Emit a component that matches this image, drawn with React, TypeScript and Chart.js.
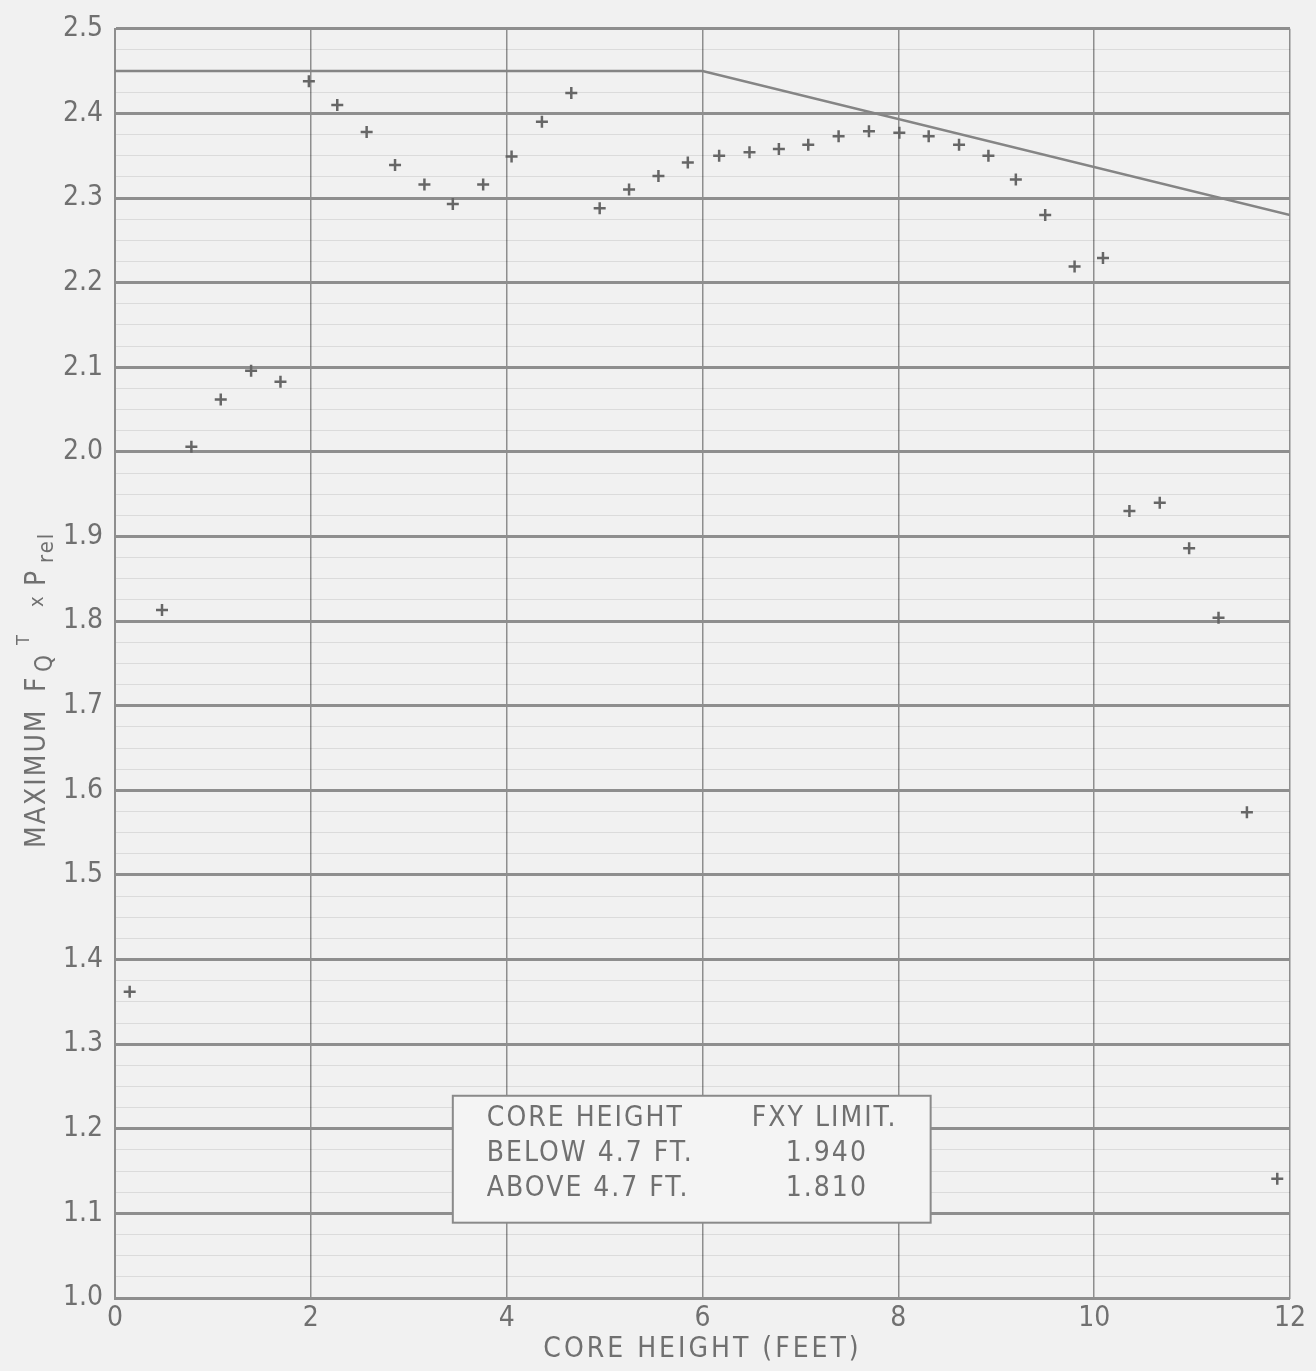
import React, { useEffect, useRef } from "react";
import { Chart, registerables } from "chart.js";
Chart.register(...registerables);

// Measured points: core height (ft) and maximum FQ^T x Prel
const coreHeight = [
  0.15, 0.48, 0.78, 1.08, 1.39, 1.69, 1.98, 2.27, 2.57, 2.86,
  3.16, 3.45, 3.76, 4.05, 4.36, 4.66, 4.95, 5.25, 5.55, 5.85,
  6.17, 6.48, 6.78, 7.08, 7.39, 7.70, 8.01, 8.31, 8.62, 8.92,
  9.20, 9.50, 9.80, 10.09, 10.36, 10.67, 10.97, 11.27, 11.56, 11.87,
];
const fqValues = [
  1.362, 1.813, 2.006, 2.062, 2.096, 2.083, 2.438, 2.410, 2.378, 2.339,
  2.316, 2.293, 2.316, 2.349, 2.390, 2.424, 2.288, 2.310, 2.326, 2.342,
  2.350, 2.354, 2.358, 2.363, 2.373, 2.379, 2.377, 2.373, 2.363, 2.350,
  2.322, 2.280, 2.219, 2.229, 1.930, 1.940, 1.886, 1.804, 1.574, 1.141,
];

// Limit line
const limitHeight = [0, 6, 12];
const limitValues = [2.45, 2.45, 2.28];

// Axis ticks
const xTickValues = [0, 2, 4, 6, 8, 10, 12];
const yMajorTicks = [1.0, 1.1, 1.2, 1.3, 1.4, 1.5, 1.6, 1.7, 1.8, 1.9, 2.0, 2.1, 2.2, 2.3, 2.4, 2.5];
const yMinorSteps = [0, 0.025, 0.05, 0.075];

// Titles
const xTitle = "CORE HEIGHT (FEET)";

// Note box
const noteHeader = ["CORE HEIGHT", "FXY LIMIT."];
const noteRows = [
  ["BELOW 4.7 FT.", "1.940"],
  ["ABOVE 4.7 FT.", "1.810"],
];

const FONT = "'DejaVu Sans Condensed', 'Liberation Sans Narrow', 'DejaVu Sans', sans-serif";
const TEXT = "#707070";
const GRID = "#8e8e8e";

const isMajor = (v: number) => Math.round(v * 1000) % 100 === 0;

const bgPlugin = {
  id: "bg",
  beforeDraw(chart: any) {
    const { ctx, width, height } = chart;
    ctx.save();
    ctx.fillStyle = "#f1f1f1";
    ctx.fillRect(0, 0, width, height);
    ctx.restore();
  },
};

const titlesPlugin = {
  id: "titles",
  afterDraw(chart: any) {
    const { ctx, chartArea } = chart;
    ctx.save();
    ctx.fillStyle = TEXT;
    // x title
    ctx.font = `28px ${FONT}`;
    (ctx as any).letterSpacing = "3px";
    ctx.textAlign = "center";
    ctx.textBaseline = "middle";
    ctx.fillText(xTitle, (chartArea.left + chartArea.right) / 2, 1350);

    // y title, rotated; text x coordinate = -(screen y)
    ctx.translate(38, 0);
    ctx.rotate(-Math.PI / 2);
    ctx.textAlign = "left";
    const piece = (t: string, size: number, yScreen: number, off: number, ls: string) => {
      ctx.font = `${size}px ${FONT}`;
      (ctx as any).letterSpacing = ls;
      ctx.fillText(t, -yScreen, off);
    };
    piece("MAXIMUM", 28, 848, 0, "2px");
    piece("F", 28, 692, 0, "0px");
    piece("Q", 24, 672, 8, "0px");
    piece("T", 18, 645, -14, "0px");
    piece("x", 20, 607, 0, "0px");
    piece("P", 28, 586, 0, "0px");
    piece("rel", 22, 563, 9, "2px");
    ctx.restore();
  },
};

const notePlugin = {
  id: "note",
  afterDatasetsDraw(chart: any) {
    const { ctx, scales } = chart;
    const x0 = scales.x.getPixelForValue(3.45);
    const x1 = scales.x.getPixelForValue(8.33);
    const y0 = scales.y.getPixelForValue(1.239);
    const y1 = scales.y.getPixelForValue(1.089);
    ctx.save();
    ctx.fillStyle = "#f4f4f4";
    ctx.fillRect(x0, y0, x1 - x0, y1 - y0);
    ctx.strokeStyle = "#8a8a8a";
    ctx.lineWidth = 2;
    ctx.strokeRect(x0, y0, x1 - x0, y1 - y0);
    ctx.fillStyle = TEXT;
    ctx.font = `28px ${FONT}`;
    (ctx as any).letterSpacing = "2px";
    ctx.textBaseline = "middle";
    ctx.textAlign = "left";
    ctx.fillText(noteHeader[0], x0 + 34, y0 + 23);
    ctx.fillText(noteHeader[1], x0 + 299, y0 + 23);
    noteRows.forEach((r, i) => {
      const y = y0 + 58 + i * 35;
      ctx.fillText(r[0], x0 + 34, y);
      ctx.fillText(r[1], x0 + 333, y);
    });
    ctx.restore();
  },
};

export default function App() {
  const ref = useRef<HTMLCanvasElement | null>(null);
  useEffect(() => {
    if (!ref.current) return;
    const yTicks: number[] = [];
    yMajorTicks.forEach((m, i) => {
      if (i === yMajorTicks.length - 1) {
        yTicks.push(m);
      } else {
        yMinorSteps.forEach((s) => yTicks.push(Math.round((m + s) * 1000) / 1000));
      }
    });
    const chart = new Chart(ref.current, {
      type: "scatter",
      data: {
        datasets: [
          {
            label: "Limit",
            type: "line",
            data: limitHeight.map((x, i) => ({ x, y: limitValues[i] })),
            borderColor: "#858585",
            borderWidth: 2.5,
            pointRadius: 0,
            fill: false,
          },
          {
            label: "Max FQ x Prel",
            data: coreHeight.map((x, i) => ({ x, y: fqValues[i] })),
            pointStyle: "cross",
            pointRadius: 6,
            borderWidth: 2.5,
            borderColor: "#666666",
            backgroundColor: "#666666",
          },
        ],
      },
      options: {
        animation: false,
        responsive: false,
        devicePixelRatio: 1,
        layout: { padding: { left: 0, right: 26, top: 20, bottom: 0 } },
        plugins: { legend: { display: false }, tooltip: { enabled: false } },
        scales: {
          x: {
            type: "linear",
            min: 0,
            max: 12,
            afterBuildTicks: (axis: any) => {
              axis.ticks = xTickValues.map((v) => ({ value: v }));
            },
            ticks: {
              autoSkip: false,
              maxRotation: 0,
              color: TEXT,
              font: { family: FONT, size: 28 },
              padding: 4,
              callback: (v: any) => String(v),
            },
            grid: { color: GRID, lineWidth: 1.5, drawTicks: false },
            border: { color: GRID, width: 2 },
            title: { display: false },
            afterFit: (axis: any) => {
              axis.height = 73;
            },
          },
          y: {
            type: "linear",
            min: 1.0,
            max: 2.5,
            afterBuildTicks: (axis: any) => {
              axis.ticks = yTicks.map((v) => ({ value: v }));
            },
            ticks: {
              autoSkip: false,
              color: TEXT,
              font: { family: FONT, size: 28 },
              padding: 12,
              callback: (v: any) => (isMajor(Number(v)) ? Number(v).toFixed(1) : ""),
            },
            grid: {
              drawTicks: false,
              color: (c: any) => (isMajor(c.tick.value) ? GRID : "rgba(0,0,0,0.09)"),
              lineWidth: (c: any) => (isMajor(c.tick.value) ? 3 : 1),
            },
            border: { color: GRID, width: 2 },
            afterFit: (axis: any) => {
              axis.width = 115;
            },
          },
        },
      },
      plugins: [bgPlugin, titlesPlugin, notePlugin],
    } as any);
    return () => chart.destroy();
  }, []);
  return (
    <div style={{ position: "absolute", left: 0, top: 0, width: 1316, height: 1371 }}>
      <canvas ref={ref} width={1316} height={1371} style={{ display: "block" }} />
    </div>
  );
}
